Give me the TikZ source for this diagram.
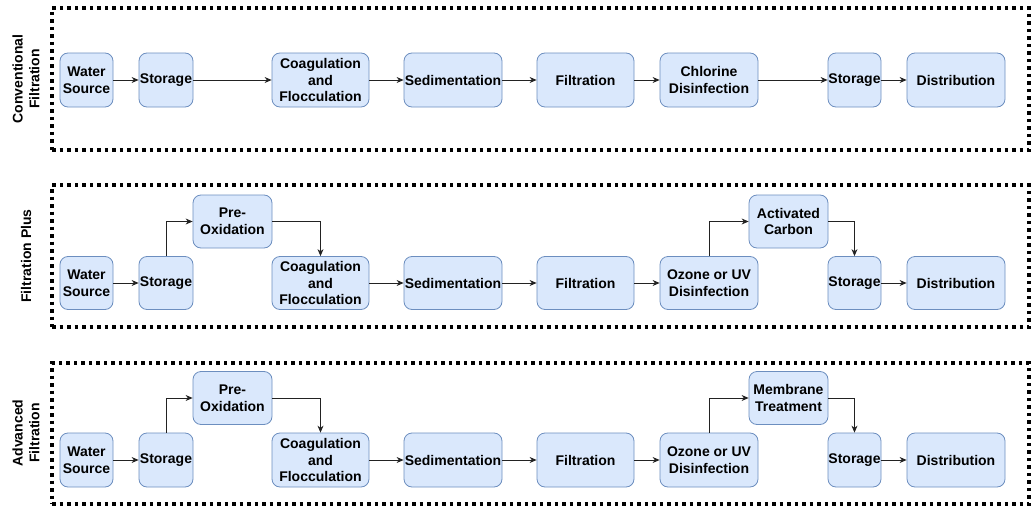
\documentclass[tikz,border=0pt]{standalone}
\usepackage{fontspec}
\setmainfont{Liberation Sans}
\usetikzlibrary{arrows.meta}
\definecolor{boxfill}{HTML}{DAE8FC}
\definecolor{boxline}{HTML}{6C8EBF}
\definecolor{arrowcol}{HTML}{222222}
\tikzset{
  procbox/.style={draw=boxline, fill=boxfill, rounded corners=8pt, line width=0.8pt,
    align=center, inner sep=0pt, font=\bfseries\fontsize{14}{16.7}\selectfont},
  grpframe/.style={draw=black, line width=3.5pt, dash pattern=on 3.5pt off 4pt},
  grplabel/.style={rotate=90, align=center, font=\bfseries\fontsize{14}{16.7}\selectfont},
  flow/.style={draw=arrowcol, line width=0.8pt, -{Stealth[length=7pt,width=6pt]}},
}
\begin{document}
\begin{tikzpicture}[x=1pt,y=-1pt]
\useasboundingbox (0,0) rectangle (1031,506);

% ---------- frames ----------
\node[grpframe, minimum width=977pt, minimum height=142pt] (f1) at (540.5,79) {};
\node[grpframe, minimum width=977pt, minimum height=142pt] (f2) at (540.5,256) {};
\node[grpframe, minimum width=977pt, minimum height=141pt] (f3) at (540.5,433.5) {};

\node[grplabel] (l1) at (26,79) {Conventional\\Filtration};
\node[grplabel] (l2) at (26,256) {Filtration Plus};
\node[grplabel] (l3) at (26,433) {Advanced\\Filtration};

% ---------- row 1 ----------
\node[procbox, minimum width=53pt, minimum height=54pt] (a1) at (86.5,80) {Water\\Source};
\node[procbox, minimum width=54pt, minimum height=54pt] (a2) at (166,80) {Storage};
\node[procbox, minimum width=97pt, minimum height=54pt] (a3) at (320.5,80) {Coagulation\\and\\Flocculation};
\node[procbox, minimum width=98pt, minimum height=54pt] (a4) at (453,80) {Sedimentation};
\node[procbox, minimum width=97pt, minimum height=54pt] (a5) at (585.5,80) {Filtration};
\node[procbox, minimum width=98pt, minimum height=54pt] (a6) at (709,80) {Chlorine\\Disinfection};
\node[procbox, minimum width=53pt, minimum height=54pt] (a7) at (854.5,80) {Storage};
\node[procbox, minimum width=98pt, minimum height=54pt] (a8) at (956,80) {Distribution};
\draw[flow] (a1.east) -- (a2.west);
\draw[flow] (a2.east) -- (a3.west);
\draw[flow] (a3.east) -- (a4.west);
\draw[flow] (a4.east) -- (a5.west);
\draw[flow] (a5.east) -- (a6.west);
\draw[flow] (a6.east) -- (a7.west);
\draw[flow] (a7.east) -- (a8.west);

% ---------- row 2 ----------
\node[procbox, minimum width=53pt, minimum height=53pt] (b1) at (86.5,283) {Water\\Source};
\node[procbox, minimum width=54pt, minimum height=53pt] (b2) at (166,283) {Storage};
\node[procbox, minimum width=79pt, minimum height=53pt] (bp) at (232.5,221.5) {Pre-\\Oxidation};
\node[procbox, minimum width=97pt, minimum height=53pt] (b3) at (320.5,283) {Coagulation\\and\\Flocculation};
\node[procbox, minimum width=98pt, minimum height=53pt] (b4) at (453,283) {Sedimentation};
\node[procbox, minimum width=97pt, minimum height=53pt] (b5) at (585.5,283) {Filtration};
\node[procbox, minimum width=98pt, minimum height=53pt] (b6) at (709,283) {Ozone or UV\\Disinfection};
\node[procbox, minimum width=79pt, minimum height=53pt] (bc) at (788.5,221.5) {Activated\\Carbon};
\node[procbox, minimum width=53pt, minimum height=53pt] (b7) at (854.5,283) {Storage};
\node[procbox, minimum width=98pt, minimum height=53pt] (b8) at (956,283) {Distribution};
\draw[flow] (b1.east) -- (b2.west);
\draw[flow] (b2.north) |- (bp.west);
\draw[flow] (bp.east) -| (b3.north);
\draw[flow] (b3.east) -- (b4.west);
\draw[flow] (b4.east) -- (b5.west);
\draw[flow] (b5.east) -- (b6.west);
\draw[flow] (b6.north) |- (bc.west);
\draw[flow] (bc.east) -| (b7.north);
\draw[flow] (b7.east) -- (b8.west);

% ---------- row 3 ----------
\node[procbox, minimum width=53pt, minimum height=54pt] (c1) at (86.5,460) {Water\\Source};
\node[procbox, minimum width=54pt, minimum height=54pt] (c2) at (166,460) {Storage};
\node[procbox, minimum width=79pt, minimum height=53pt] (cp) at (232.5,398) {Pre-\\Oxidation};
\node[procbox, minimum width=97pt, minimum height=54pt] (c3) at (320.5,460) {Coagulation\\and\\Flocculation};
\node[procbox, minimum width=98pt, minimum height=54pt] (c4) at (453,460) {Sedimentation};
\node[procbox, minimum width=97pt, minimum height=54pt] (c5) at (585.5,460) {Filtration};
\node[procbox, minimum width=98pt, minimum height=54pt] (c6) at (709,460) {Ozone or UV\\Disinfection};
\node[procbox, minimum width=79pt, minimum height=53pt] (cm) at (788.5,398) {Membrane\\Treatment};
\node[procbox, minimum width=53pt, minimum height=54pt] (c7) at (854.5,460) {Storage};
\node[procbox, minimum width=98pt, minimum height=54pt] (c8) at (956,460) {Distribution};
\draw[flow] (c1.east) -- (c2.west);
\draw[flow] (c2.north) |- (cp.west);
\draw[flow] (cp.east) -| (c3.north);
\draw[flow] (c3.east) -- (c4.west);
\draw[flow] (c4.east) -- (c5.west);
\draw[flow] (c5.east) -- (c6.west);
\draw[flow] (c6.north) |- (cm.west);
\draw[flow] (cm.east) -| (c7.north);
\draw[flow] (c7.east) -- (c8.west);
\end{tikzpicture}
\end{document}
